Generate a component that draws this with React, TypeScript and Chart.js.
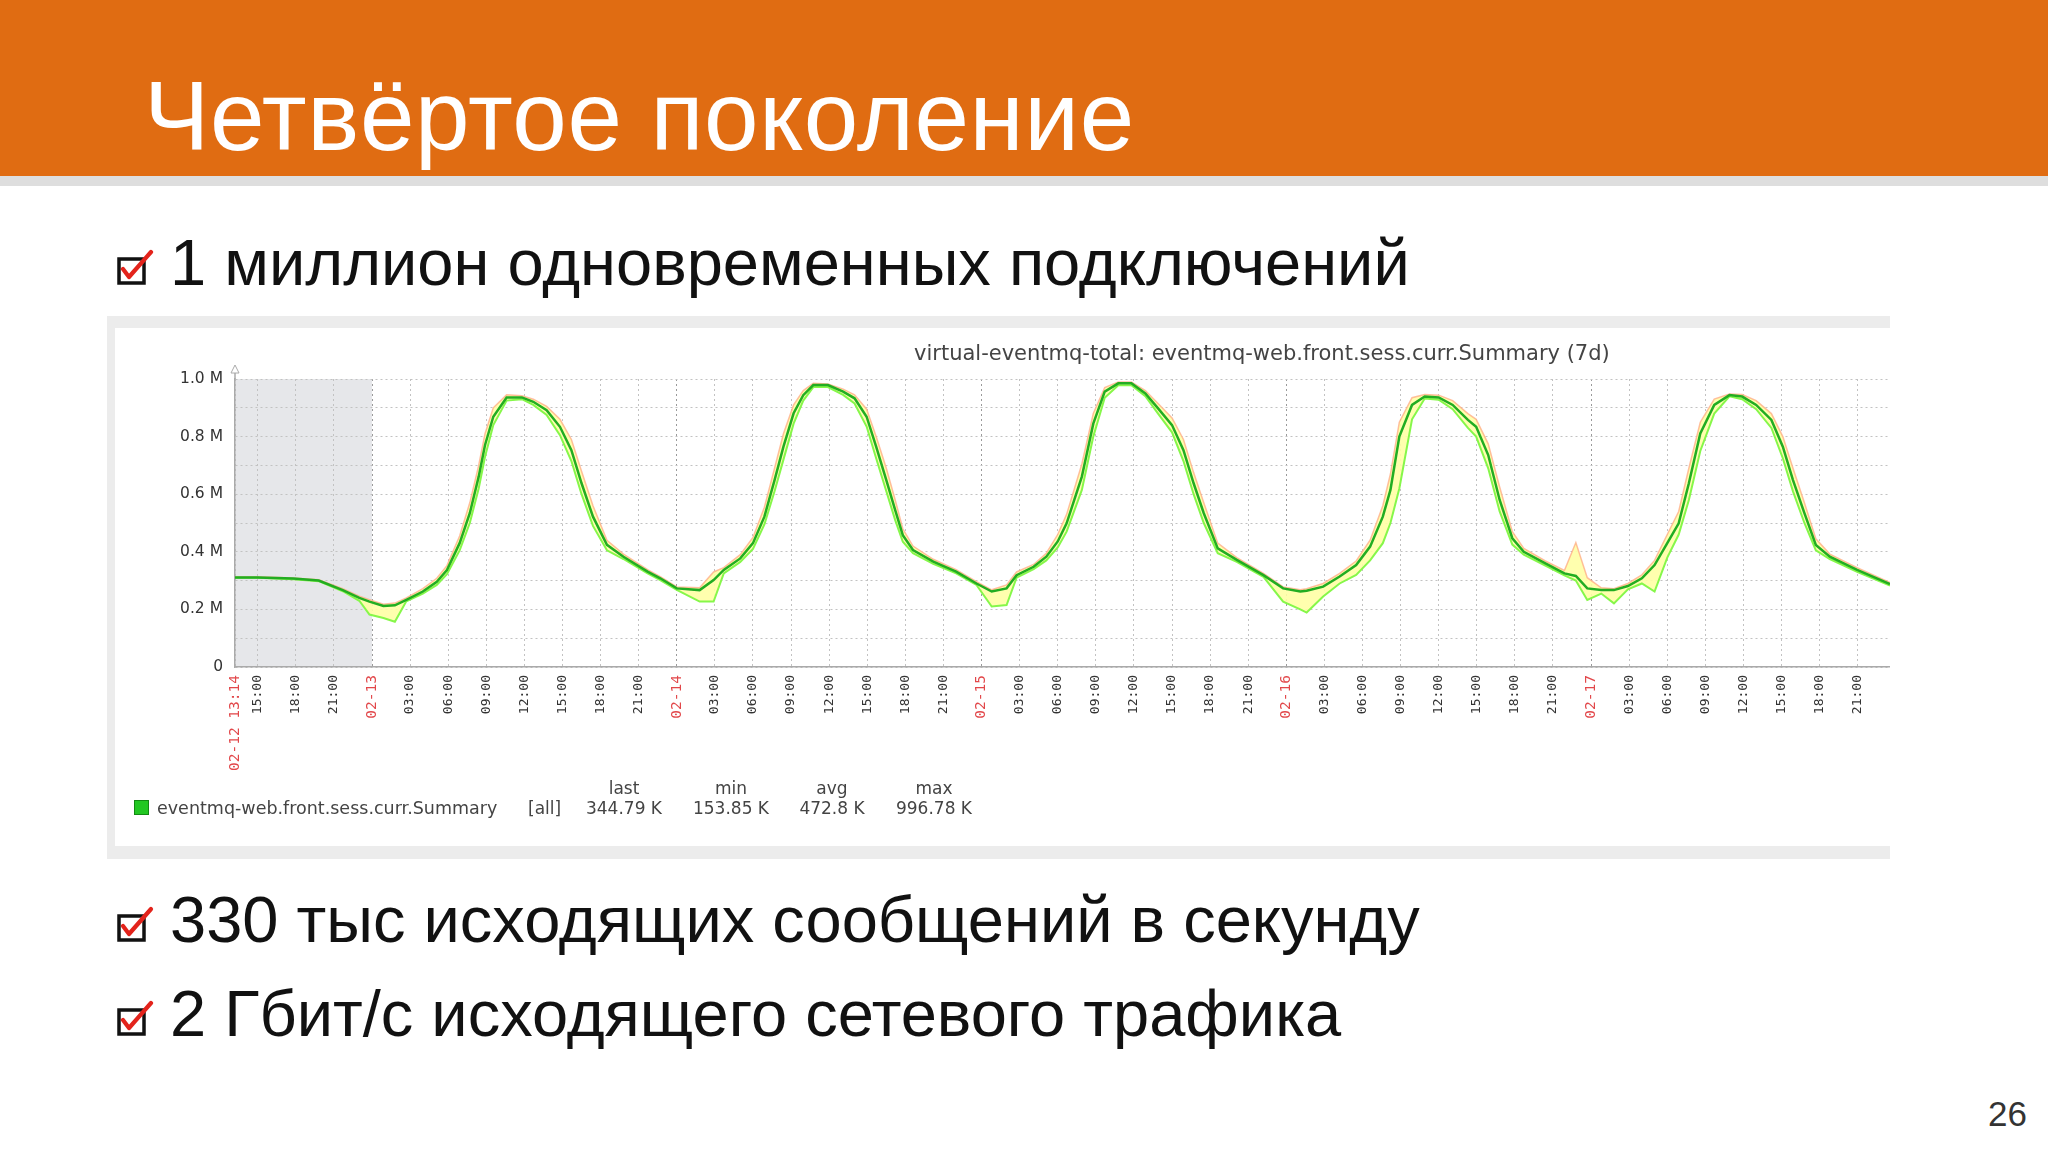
import React, { useEffect, useRef } from "react";
import { Chart, registerables } from "chart.js";

Chart.register(...registerables);

// Hours since 02-12 00:00
const times = [
  13.21, 15.0, 17.8, 19.8, 21.7, 23.0, 23.8, 24.9, 25.8, 26.7, 28.0, 29.1, 29.9, 30.9, 31.7, 32.4, 32.9, 33.55,
  34.6, 35.8, 36.7, 37.75, 38.8, 39.7, 40.5, 41.4, 42.5, 43.8, 45.7, 46.7, 48.0, 49.8, 50.9, 51.7, 53.0, 54.0,
  54.9, 55.7, 56.4, 57.2, 57.96, 58.75, 59.9, 61.1, 62.0, 62.95, 63.7, 64.5, 65.2, 65.8, 66.6, 68.2, 70.0, 71.6,
  72.8, 73.97, 74.76, 76.1, 77.1, 78.0, 78.7, 79.9, 80.8, 81.7, 82.77, 83.8, 84.9, 85.9, 87.0, 87.9, 88.7, 89.5,
  90.6, 92.1, 94.2, 95.75, 97.1, 97.6, 98.9, 100.2, 101.5, 102.6, 103.6, 104.2, 104.9, 105.9, 106.9, 108.0, 109.1,
  110.3, 110.95, 111.9, 112.8, 113.8, 114.7, 116.4, 117.9, 118.8, 119.7, 120.8, 121.8, 122.9, 124.0, 125.0, 126.0,
  126.9, 127.7, 128.6, 129.7, 130.9, 131.9, 133.0, 134.2, 135.1, 135.9, 136.8, 137.7, 138.8, 140.95, 143.54,
];

const avgValues = [
  0.311, 0.311, 0.307, 0.3, 0.267, 0.24, 0.227, 0.212, 0.214, 0.233, 0.262, 0.296, 0.337, 0.43, 0.534, 0.661, 0.771, 0.869,
  0.936, 0.936, 0.921, 0.892, 0.834, 0.753, 0.638, 0.522, 0.424, 0.383, 0.331, 0.308, 0.273, 0.267, 0.302, 0.337, 0.377, 0.43,
  0.522, 0.649, 0.765, 0.881, 0.944, 0.979, 0.979, 0.956, 0.933, 0.869, 0.765, 0.649, 0.545, 0.458, 0.406, 0.366, 0.331, 0.29,
  0.262, 0.273, 0.319, 0.348, 0.383, 0.436, 0.499, 0.661, 0.845, 0.956, 0.985, 0.985, 0.95, 0.898, 0.84, 0.753, 0.638, 0.534,
  0.412, 0.372, 0.319, 0.273, 0.262, 0.265, 0.279, 0.314, 0.354, 0.418, 0.522, 0.615, 0.8, 0.91, 0.939, 0.936, 0.91,
  0.858, 0.834, 0.736, 0.58, 0.447, 0.4, 0.36, 0.325, 0.316, 0.273, 0.267, 0.267, 0.281, 0.308, 0.354, 0.43,
  0.499, 0.638, 0.811, 0.91, 0.944, 0.939, 0.91, 0.858, 0.765, 0.649, 0.534, 0.424, 0.383, 0.337, 0.288,
];

const minValues = [
  0.31, 0.31, 0.305, 0.298, 0.263, 0.23, 0.182, 0.17, 0.157, 0.228, 0.255, 0.285, 0.322, 0.405, 0.5, 0.62, 0.73, 0.84,
  0.925, 0.93, 0.91, 0.875, 0.805, 0.715, 0.6, 0.49, 0.405, 0.375, 0.325, 0.302, 0.268, 0.227, 0.227, 0.325, 0.365, 0.41,
  0.495, 0.61, 0.72, 0.845, 0.925, 0.972, 0.972, 0.945, 0.915, 0.835, 0.725, 0.61, 0.51, 0.435, 0.395, 0.358, 0.325, 0.285,
  0.21, 0.215, 0.31, 0.34, 0.37, 0.415, 0.47, 0.615, 0.8, 0.935, 0.978, 0.978, 0.94, 0.88, 0.815, 0.715, 0.6, 0.5,
  0.395, 0.365, 0.313, 0.227, 0.2, 0.189, 0.245, 0.29, 0.32, 0.37, 0.43, 0.5, 0.62, 0.86, 0.932, 0.928, 0.895,
  0.83, 0.8, 0.69, 0.54, 0.425, 0.39, 0.352, 0.318, 0.3, 0.233, 0.255, 0.221, 0.27, 0.29, 0.262, 0.38,
  0.46, 0.58, 0.75, 0.88, 0.94, 0.93, 0.895, 0.83, 0.725, 0.61, 0.5, 0.405, 0.375, 0.33, 0.283,
];

const maxValues = [
  0.313, 0.313, 0.309, 0.303, 0.272, 0.246, 0.234, 0.218, 0.222, 0.24, 0.272, 0.308, 0.352, 0.455, 0.57, 0.7, 0.81, 0.9,
  0.945, 0.942, 0.93, 0.905, 0.86, 0.79, 0.68, 0.56, 0.44, 0.392, 0.338, 0.314, 0.278, 0.275, 0.33, 0.345, 0.39, 0.45,
  0.555, 0.69, 0.81, 0.91, 0.96, 0.985, 0.983, 0.965, 0.945, 0.895, 0.8, 0.69, 0.58, 0.48, 0.42, 0.374, 0.338, 0.296,
  0.268, 0.285, 0.33, 0.356, 0.395, 0.46, 0.53, 0.705, 0.88, 0.97, 0.99, 0.99, 0.96, 0.915, 0.865, 0.79, 0.675, 0.57,
  0.43, 0.38, 0.325, 0.278, 0.268, 0.272, 0.29, 0.325, 0.368, 0.44, 0.56, 0.67, 0.85, 0.935, 0.946, 0.944, 0.925,
  0.88, 0.86, 0.775, 0.625, 0.47, 0.412, 0.368, 0.335, 0.432, 0.31, 0.275, 0.272, 0.29, 0.32, 0.37, 0.46,
  0.54, 0.69, 0.85, 0.93, 0.948, 0.946, 0.925, 0.88, 0.8, 0.69, 0.57, 0.445, 0.392, 0.345, 0.293,
];

const xMin = 13.21;
const xMax = 143.54;
const shadeEndHour = 24;
const startLabel = "02-12 13:14";
const dayLabels = ["02-12", "02-13", "02-14", "02-15", "02-16", "02-17", "02-18"];
const xTickHours = [
  13.21, 15, 18, 21, 24, 27, 30, 33, 36, 39, 42, 45, 48, 51, 54, 57, 60, 63, 66, 69, 72, 75, 78, 81, 84, 87, 90, 93,
  96, 99, 102, 105, 108, 111, 114, 117, 120, 123, 126, 129, 132, 135, 138, 141,
];
const yTickLabels = ["0", "", "0.2 M", "", "0.4 M", "", "0.6 M", "", "0.8 M", "", "1.0 M"];

const chartTitle = "virtual-eventmq-total: eventmq-web.front.sess.curr.Summary (7d)";
const seriesName = "eventmq-web.front.sess.curr.Summary";
const statHeaders = ["last", "min", "avg", "max"];
const statValues = ["344.79 K", "153.85 K", "472.8 K", "996.78 K"];

const slideTitle = "Четвёртое поколение";
const bullets = [
  "1 миллион одновременных подключений",
  "330 тыс исходящих сообщений в секунду",
  "2 Гбит/с исходящего сетевого трафика",
];
const pageNumber = "26";

const RED = "#e2474a";

const isStart = (v: number) => Math.abs(v - xMin) < 0.01;
const isMidnight = (v: number) => !isStart(v) && Math.abs(v % 24) < 0.01;
const pad2 = (n: number) => (n < 10 ? "0" + n : "" + n);
const xLabel = (v: number) => {
  if (isStart(v)) return startLabel;
  if (isMidnight(v)) return dayLabels[Math.round(v / 24)];
  return pad2(Math.round(v) % 24) + ":00";
};

const decorPlugin = {
  id: "decor",
  beforeDraw(chart: any) {
    const { ctx, chartArea, scales } = chart;
    const x0 = scales.x.getPixelForValue(xMin);
    const x1 = scales.x.getPixelForValue(shadeEndHour);
    ctx.save();
    ctx.fillStyle = "#e6e7ea";
    ctx.fillRect(x0, chartArea.top, x1 - x0, chartArea.bottom - chartArea.top);
    ctx.restore();
  },
  afterDraw(chart: any) {
    const { ctx, chartArea } = chart;
    const x = chartArea.left;
    const top = chartArea.top;
    ctx.save();
    ctx.strokeStyle = "#aaaaaa";
    ctx.lineWidth = 1.5;
    ctx.beginPath();
    ctx.moveTo(x, top);
    ctx.lineTo(x, top - 6);
    ctx.stroke();
    ctx.beginPath();
    ctx.moveTo(x - 4, top - 6);
    ctx.lineTo(x, top - 14);
    ctx.lineTo(x + 4, top - 6);
    ctx.closePath();
    ctx.fillStyle = "#ffffff";
    ctx.fill();
    ctx.lineWidth = 1;
    ctx.stroke();
    ctx.restore();
  },
};

const pts = (vals: number[]) => times.map((t, i) => ({ x: t, y: vals[i] }));

function GraphCanvas() {
  const ref = useRef<HTMLCanvasElement | null>(null);
  useEffect(() => {
    if (!ref.current) return;
    const chart = new Chart(ref.current, {
      type: "line",
      data: {
        datasets: [
          {
            label: "max",
            data: pts(maxValues),
            borderColor: "rgba(255,170,130,0.75)",
            borderWidth: 1.5,
            pointRadius: 0,
            fill: "+1",
            backgroundColor: "rgba(255,255,165,0.9)",
            order: 2,
          },
          {
            label: "min",
            data: pts(minValues),
            borderColor: "#86f74a",
            borderWidth: 2,
            pointRadius: 0,
            fill: false,
            order: 1,
          },
          {
            label: "avg",
            data: pts(avgValues),
            borderColor: "#22ad22",
            borderWidth: 2.5,
            pointRadius: 0,
            fill: false,
            order: 0,
          },
        ],
      } as any,
      options: {
        animation: false,
        responsive: true,
        maintainAspectRatio: false,
        parsing: false,
        layout: { padding: { top: 51, bottom: 69, left: 0, right: 0 } },
        plugins: { legend: { display: false }, tooltip: { enabled: false }, title: { display: false } },
        elements: { line: { tension: 0 } },
        scales: {
          x: {
            type: "linear",
            min: xMin,
            max: xMax,
            afterBuildTicks: (s: any) => {
              s.ticks = xTickHours.map((v) => ({ value: v }));
            },
            afterFit: (s: any) => {
              s.height = 110;
            },
            ticks: {
              autoSkip: false,
              minRotation: 90,
              maxRotation: 90,
              padding: 8,
              callback: (v: any) => xLabel(Number(v)),
              color: (c: any) => (c.tick && (isStart(c.tick.value) || isMidnight(c.tick.value)) ? RED : "#333333"),
              font: (c: any) =>
                c.tick && (isStart(c.tick.value) || isMidnight(c.tick.value))
                  ? { family: "DejaVu Sans Mono", size: 14.5 }
                  : { family: "DejaVu Sans Mono", size: 13 },
            },
            grid: {
              drawTicks: false,
              lineWidth: 1,
              color: (c: any) => (c.tick && isMidnight(c.tick.value) ? "#9a9a9a" : "#c2c2c2"),
            },
            border: { display: true, color: "#aaaaaa", width: 1.5, dash: [2, 3] },
          },
          y: {
            type: "linear",
            min: 0,
            max: 1,
            afterFit: (s: any) => {
              s.width = 120;
            },
            ticks: {
              stepSize: 0.1,
              autoSkip: false,
              padding: 12,
              callback: (_v: any, i: number) => yTickLabels[i],
              color: "#333333",
              font: { family: "DejaVu Sans", size: 15.5 },
            },
            grid: { drawTicks: false, lineWidth: 1, color: "#c2c2c2" },
            border: { display: true, color: "#aaaaaa", width: 1.5, dash: [2, 3] },
          },
        },
      } as any,
      plugins: [decorPlugin],
    });
    return () => chart.destroy();
  }, []);
  return <canvas ref={ref} />;
}

function CheckBox({ top }: { top: number }) {
  return (
    <svg
      width={44}
      height={44}
      viewBox="0 0 44 44"
      style={{ position: "absolute", left: 114, top, overflow: "visible" }}
    >
      <rect x={5} y={12} width={25} height={24} fill="none" stroke="#111" strokeWidth={3.5} />
      <path d="M9 22 L15 30 L37 5" fill="none" stroke="#e3231b" strokeWidth={4.2} strokeLinecap="round" strokeLinejoin="round" />
    </svg>
  );
}

const abs = (s: React.CSSProperties): React.CSSProperties => ({ position: "absolute", whiteSpace: "nowrap", ...s });

export default function App() {
  const bulletTops = [230, 887, 981];
  const statCenters = [624, 731, 832, 934];
  return (
    <div
      style={{
        position: "fixed",
        left: 0,
        top: 0,
        width: 2048,
        height: 1152,
        overflow: "hidden",
        background: "#ffffff",
        fontFamily: "'Liberation Sans', Arial, sans-serif",
      }}
    >
      <div style={abs({ left: 0, top: 0, width: 2048, height: 176, background: "#e06c12" })} />
      <div style={abs({ left: 0, top: 176, width: 2048, height: 10, background: "#dedede" })} />
      <div
        style={abs({
          left: 144,
          top: 67,
          fontSize: 98,
          letterSpacing: 0.6,
          lineHeight: "98px",
          color: "#ffffff",
        })}
      >
        {slideTitle}
      </div>

      {bullets.map((b, i) => (
        <React.Fragment key={i}>
          <CheckBox top={bulletTops[i] + 17} />
          <div
            style={abs({
              left: 170,
              top: bulletTops[i],
              fontSize: 65,
              lineHeight: "65px",
              color: "#111111",
            })}
          >
            {b}
          </div>
        </React.Fragment>
      ))}

      {/* graph panel */}
      <div style={abs({ left: 107, top: 316, width: 1783, height: 543, background: "#ececec" })} />
      <div style={abs({ left: 115, top: 328, width: 1775, height: 518, background: "#ffffff" })} />
      <div style={abs({ left: 115, top: 328, width: 1775, height: 518 })}>
        <GraphCanvas />
      </div>
      <div
        style={abs({
          left: 914,
          top: 341,
          fontFamily: "'DejaVu Sans', sans-serif",
          fontSize: 21,
          lineHeight: "25px",
          color: "#444444",
        })}
      >
        {chartTitle}
      </div>

      {/* legend */}
      <div style={abs({ left: 134, top: 800, width: 13, height: 13, background: "#22c722", border: "1px solid #128a12" })} />
      <div
        style={abs({
          left: 157,
          top: 797,
          fontFamily: "'DejaVu Sans', sans-serif",
          fontSize: 17.5,
          lineHeight: "22px",
          color: "#444444",
        })}
      >
        {seriesName}
      </div>
      <div
        style={abs({
          left: 528,
          top: 797,
          fontFamily: "'DejaVu Sans', sans-serif",
          fontSize: 17,
          lineHeight: "22px",
          color: "#444444",
        })}
      >
        [all]
      </div>
      {statHeaders.map((h, i) => (
        <div
          key={"h" + i}
          style={abs({
            left: statCenters[i] - 60,
            width: 120,
            textAlign: "center",
            top: 777,
            fontFamily: "'DejaVu Sans', sans-serif",
            fontSize: 17,
            lineHeight: "22px",
            color: "#444444",
          })}
        >
          {h}
        </div>
      ))}
      {statValues.map((v, i) => (
        <div
          key={"v" + i}
          style={abs({
            left: statCenters[i] - 60,
            width: 120,
            textAlign: "center",
            top: 797,
            fontFamily: "'DejaVu Sans', sans-serif",
            fontSize: 17,
            lineHeight: "22px",
            color: "#444444",
          })}
        >
          {v}
        </div>
      ))}

      <div style={abs({ left: 1988, top: 1096, fontSize: 35, lineHeight: "35px", color: "#333333" })}>{pageNumber}</div>
    </div>
  );
}
